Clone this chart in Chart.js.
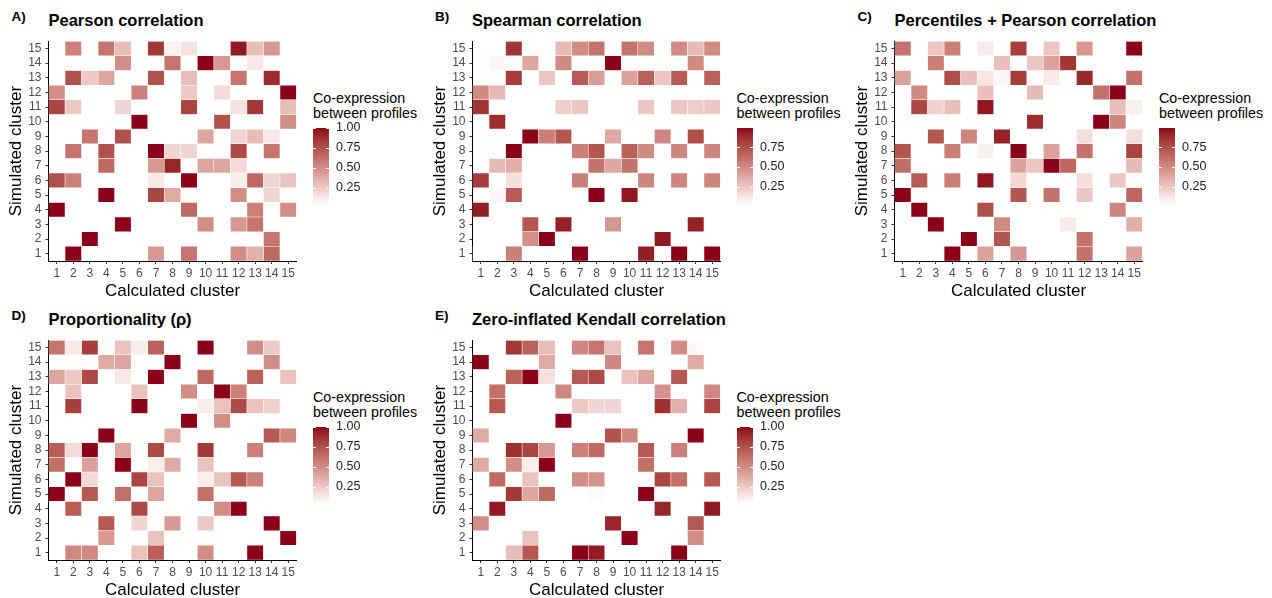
<!DOCTYPE html>
<html>
<head>
<meta charset="utf-8">
<script src="https://cdn.jsdelivr.net/npm/chart.js@4.4.1/dist/chart.umd.min.js"></script>
<style>
  body { margin: 0; width: 1272px; height: 598px; background: #fff; position: relative; overflow: hidden;
         font-family: "Liberation Sans", Arial, sans-serif; }
  canvas { position: absolute; }
  .tag { position: absolute; font-weight: bold; font-size: 13.5px; line-height: 13.5px; color: #000; }
  .title { position: absolute; font-weight: bold; font-size: 16.5px; line-height: 16.5px; color: #000; white-space: nowrap; }
  .ltitle { position: absolute; font-size: 14.3px; line-height: 15px; color: #000; white-space: nowrap; }
</style>
</head>
<body>
<script>
// Clusters 1..15 (both axes)
const clusters = [1, 2, 3, 4, 5, 6, 7, 8, 9, 10, 11, 12, 13, 14, 15];
const legendTicks = [0.25, 0.5, 0.75, 1.0];

// Each matrix: rows = simulated cluster 15 down to 1, columns = calculated cluster 1..15 (0 = empty)
const pearson = [
  [0, .55, 0, .6, .3, 0, .85, .08, .15, 0, 0, .95, .3, .45, 0],
  [0, 0, 0, 0, .5, 0, 0, .6, 0, 1, .45, 0, .12, 0, 0],
  [0, .75, .25, .4, 0, 0, .75, 0, .3, 0, 0, .6, 0, .9, 0],
  [.5, 0, 0, 0, 0, .55, 0, 0, .25, 0, .18, 0, .03, 0, 1],
  [.8, .25, 0, 0, .2, 0, 0, 0, .8, 0, 0, .15, .85, 0, .3],
  [0, 0, 0, 0, 0, 1, 0, 0, 0, 0, .75, 0, 0, 0, .5],
  [0, 0, .6, 0, .75, 0, 0, 0, 0, .4, 0, .2, .3, .12, 0],
  [0, .6, 0, .75, 0, 0, 1, .2, .2, 0, 0, .78, 0, .6, 0],
  [0, 0, 0, .65, 0, 0, .45, .92, 0, .4, .4, .18, 0, 0, 0],
  [.75, .55, 0, 0, 0, 0, .12, 0, 1, 0, 0, .1, .65, .2, .28],
  [0, 0, 0, 1, 0, 0, .8, .38, 0, 0, 0, .5, 0, .2, 0],
  [1, 0, 0, 0, 0, 0, 0, 0, .65, 0, 0, 0, .55, 0, .5],
  [0, 0, 0, 0, 1, 0, 0, 0, 0, .5, 0, .45, .6, 0, 0],
  [0, 0, 1, 0, 0, 0, 0, 0, 0, 0, 0, 0, 0, .6, 0],
  [0, 1, 0, 0, 0, 0, .45, 0, .6, 0, 0, .5, .35, .65, 0]
];

const spearman = [
  [0, 0, .85, .03, 0, .3, .5, .6, 0, .6, .5, 0, .5, .3, .5],
  [0, .05, 0, .38, 0, .5, 0, 0, .99, 0, 0, 0, 0, .5, 0],
  [0, 0, .82, 0, .25, 0, .7, .42, 0, .4, .68, .25, .7, 0, .68],
  [.5, .3, 0, 0, 0, 0, 0, 0, 0, 0, 0, 0, 0, 0, 0],
  [.85, 0, 0, 0, 0, .22, .25, 0, 0, 0, .25, 0, .25, .22, .25],
  [0, .88, 0, 0, 0, 0, 0, 0, 0, 0, 0, 0, 0, 0, 0],
  [0, 0, 0, .99, .55, .72, 0, 0, .38, 0, 0, .52, 0, .75, 0],
  [0, 0, .99, 0, 0, 0, .55, .72, 0, .68, .5, 0, .52, 0, .52],
  [0, .3, .35, 0, 0, 0, 0, .6, .38, .6, 0, 0, 0, 0, 0],
  [.82, 0, .15, 0, 0, 0, .55, 0, 0, 0, .52, 0, .52, 0, .52],
  [0, .05, .7, 0, 0, 0, 0, .99, 0, .95, 0, 0, 0, 0, 0],
  [.93, 0, 0, 0, 0, 0, 0, 0, 0, 0, 0, 0, 0, 0, 0],
  [0, 0, 0, .72, 0, .92, 0, 0, .45, 0, 0, 0, 0, .92, 0],
  [0, 0, 0, .48, .99, 0, 0, 0, 0, 0, 0, .95, 0, 0, 0],
  [.02, 0, .55, 0, 0, 0, .99, 0, 0, 0, .93, 0, .99, 0, .99]
];

const percentilesPearson = [
  [.6, 0, .25, .55, 0, .1, 0, .82, 0, .25, 0, .45, 0, 0, .99],
  [0, 0, .55, 0, 0, 0, .28, 0, .25, .4, .85, 0, 0, 0, 0],
  [.4, 0, 0, .75, .28, .12, .05, .82, 0, .1, 0, .9, 0, 0, .6],
  [0, .5, 0, 0, 0, .28, 0, 0, .3, 0, 0, 0, .6, .99, 0],
  [0, .78, .2, .28, 0, .95, 0, 0, 0, 0, 0, 0, 0, .28, .08],
  [0, 0, 0, 0, 0, 0, 0, 0, .88, 0, 0, 0, .99, .52, 0],
  [0, 0, .72, 0, .52, 0, .92, 0, 0, 0, 0, .15, 0, 0, .15],
  [.72, 0, 0, .55, 0, .08, 0, .99, 0, .4, 0, .6, 0, 0, .8],
  [.62, 0, 0, 0, 0, 0, 0, .4, .25, .99, .65, 0, 0, 0, .3],
  [0, .7, 0, .55, 0, .95, 0, .18, 0, 0, 0, .15, 0, .25, .03],
  [.99, 0, 0, 0, 0, 0, 0, .72, 0, .6, 0, .25, 0, 0, .65],
  [0, .99, 0, 0, 0, .75, 0, 0, 0, 0, 0, 0, 0, .52, 0],
  [0, 0, .99, 0, 0, .02, .5, 0, 0, 0, .1, 0, 0, 0, .35],
  [0, 0, 0, 0, .99, 0, .72, 0, 0, 0, 0, .6, 0, 0, 0],
  [0, 0, 0, .99, 0, .4, 0, .45, 0, 0, 0, .6, 0, 0, .4]
];

const proportionality = [
  [.6, .12, .82, .04, .28, .1, .68, 0, 0, 1, 0, 0, .5, .25, 0],
  [0, 0, 0, .38, .4, 0, 0, 1, 0, 0, 0, 0, 0, .5, 0],
  [.4, .25, .78, 0, .12, 0, 1, 0, 0, .65, 0, 0, .68, 0, .28],
  [0, .28, 0, 0, 0, .28, 0, 0, .5, 0, 1, .55, 0, 0, 0],
  [0, .82, 0, 0, 0, 1, 0, 0, 0, .1, .28, .78, .28, .22, 0],
  [0, 0, 0, 0, 0, 0, 0, 0, 1, 0, .5, 0, 0, 0, 0],
  [0, 0, 0, 1, 0, 0, 0, .38, 0, .03, 0, 0, 0, .72, .52],
  [.7, .18, 1, 0, .4, 0, .78, 0, 0, .85, 0, 0, .55, 0, 0],
  [.62, 0, .42, 0, 1, 0, .1, .38, 0, .28, 0, 0, 0, 0, 0],
  [0, 1, .18, 0, 0, .8, .28, 0, 0, .1, .28, .72, .55, 0, 0],
  [1, 0, .72, 0, .62, 0, .4, 0, 0, .62, 0, 0, 0, 0, 0],
  [0, .7, 0, 0, 0, .78, 0, 0, 0, 0, .5, 1, 0, 0, 0],
  [0, 0, 0, .72, 0, .2, 0, .45, 0, .25, 0, 0, 0, 1, 0],
  [0, 0, 0, .45, 0, 0, .28, 0, 0, 0, 0, 0, 0, 0, 1],
  [0, .52, .52, 0, 0, .28, .7, 0, 0, .5, 0, 0, 1, 0, 0]
];

const zeroInflatedKendall = [
  [0, 0, .85, .68, .3, 0, .52, .6, .28, 0, .6, 0, .5, .06, 0],
  [1, 0, 0, 0, .38, 0, 0, 0, .52, 0, 0, 0, 0, .38, 0],
  [0, 0, .68, 1, .15, 0, .72, .78, 0, .28, .4, 0, .72, 0, 0],
  [0, .62, 0, 0, 0, .52, 0, 0, 0, 0, 0, .48, 0, 0, .52],
  [0, .72, 0, 0, 0, 0, .25, .2, .2, 0, 0, .88, .35, .03, .8],
  [0, 0, 0, 0, 0, 1, 0, 0, 0, 0, 0, 0, 0, 0, 0],
  [.38, 0, 0, 0, 0, 0, 0, 0, .75, .52, 0, 0, 0, 1, 0],
  [0, 0, .88, .8, .45, 0, .55, .65, 0, 0, .72, 0, .55, 0, 0],
  [.38, 0, .5, .1, 1, 0, 0, 0, 0, 0, .62, 0, 0, 0, 0],
  [0, .65, 0, .28, 0, 0, .5, .48, 0, 0, 0, .8, .62, 0, .72],
  [0, 0, .85, .4, .65, 0, 0, .05, 0, 0, 1, 0, 0, 0, 0],
  [0, .95, 0, 0, 0, 0, 0, 0, 0, 0, 0, .92, 0, 0, .95],
  [.5, 0, 0, 0, 0, 0, 0, 0, .92, 0, 0, 0, 0, .72, 0],
  [0, 0, 0, .28, 0, 0, 0, 0, 0, 1, 0, 0, 0, .5, 0],
  [0, 0, .3, .72, 0, 0, 1, .95, 0, 0, 0, .04, 1, 0, 0]
];

const panels = [
  { tag: 'A)', title: 'Pearson correlation', values: pearson, x: 0, y: 0 },
  { tag: 'B)', title: 'Spearman correlation', values: spearman, x: 423.5, y: 0 },
  { tag: 'C)', title: 'Percentiles + Pearson correlation', values: percentilesPearson, x: 846, y: 0 },
  { tag: 'D)', title: 'Proportionality (ρ)', values: proportionality, x: 0, y: 299 },
  { tag: 'E)', title: 'Zero-inflated Kendall correlation', values: zeroInflatedKendall, x: 423.5, y: 299 }
];

const family = '"Liberation Sans", Arial, sans-serif';
const highColor = [139, 0, 24];

// white -> dark red, interpolated in Lab like ggplot's gradient
function toLab(rgb) {
  const lin = c => { c /= 255; return c <= 0.04045 ? c / 12.92 : Math.pow((c + 0.055) / 1.055, 2.4); };
  const [r, g, b] = rgb.map(lin);
  const X = (0.4124 * r + 0.3576 * g + 0.1805 * b) / 0.95047;
  const Y = 0.2126 * r + 0.7152 * g + 0.0722 * b;
  const Z = (0.0193 * r + 0.1192 * g + 0.9505 * b) / 1.08883;
  const f = t => t > 0.008856 ? Math.cbrt(t) : 7.787 * t + 16 / 116;
  return [116 * f(Y) - 16, 500 * (f(X) - f(Y)), 200 * (f(Y) - f(Z))];
}
function fromLab([L, a, b]) {
  const fy = (L + 16) / 116, fx = fy + a / 500, fz = fy - b / 200;
  const inv = t => t * t * t > 0.008856 ? t * t * t : (t - 16 / 116) / 7.787;
  const X = 0.95047 * inv(fx), Y = inv(fy), Z = 1.08883 * inv(fz);
  const gam = c => { c = c <= 0.0031308 ? 12.92 * c : 1.055 * Math.pow(c, 1 / 2.4) - 0.055; return Math.round(Math.min(1, Math.max(0, c)) * 255); };
  return [gam(3.2406 * X - 1.5372 * Y - 0.4986 * Z), gam(-0.9689 * X + 1.8758 * Y + 0.0415 * Z), gam(0.0557 * X - 0.2040 * Y + 1.0570 * Z)];
}
const labLow = toLab([255, 255, 255]);
const labHigh = toLab(highColor);
function fillColor(v, lo, hi) {
  const t = Math.min(1, Math.max(0, (v - lo) / (hi - lo)));
  const c = fromLab(labLow.map((l, i) => l + t * (labHigh[i] - l)));
  return `rgb(${c[0]},${c[1]},${c[2]})`;
}

function barGradient(chart, lo, hi) {
  if (!chart.chartArea) return null;
  const y = chart.scales.y;
  const g = chart.ctx.createLinearGradient(0, y.getPixelForValue(lo), 0, y.getPixelForValue(hi));
  for (let i = 0; i <= 20; i++) {
    const t = i / 20;
    g.addColorStop(t, fillColor(lo + t * (hi - lo), lo, hi));
  }
  return g;
}

// short white tick marks on both sides of the colour bar
const colorbarTicks = {
  id: 'colorbarTicks',
  afterDatasetsDraw(chart) {
    const { ctx, chartArea: a, scales: { y } } = chart;
    ctx.save();
    ctx.strokeStyle = '#fff';
    ctx.lineWidth = 1;
    y.ticks.forEach(t => {
      const py = Math.round(y.getPixelForValue(t.value)) + 0.5;
      ctx.beginPath();
      ctx.moveTo(a.left, py); ctx.lineTo(a.left + 3, py);
      ctx.moveTo(a.right - 3, py); ctx.lineTo(a.right, py);
      ctx.stroke();
    });
    ctx.restore();
  }
};

function addDiv(cls, html, left, top) {
  const d = document.createElement('div');
  d.className = cls;
  d.innerHTML = html;
  d.style.left = left + 'px';
  d.style.top = top + 'px';
  document.body.appendChild(d);
}
function addCanvas(left, top, w, h) {
  const c = document.createElement('canvas');
  c.width = w; c.height = h;
  c.style.left = left + 'px'; c.style.top = top + 'px';
  document.body.appendChild(c);
  return c;
}

function drawPanel(p) {
  const cells = [];
  const all = [];
  p.values.forEach((row, i) => {
    const r = clusters.length - i;
    row.forEach((v, j) => {
      if (v > 0) {
        cells.push({ x: String(clusters[j]), y: [r - 0.5, r + 0.5], v: v });
        all.push(v);
      }
    });
  });
  const lo = Math.min(...all);
  const hi = Math.max(...all);

  addDiv('tag', p.tag, p.x + 11.5, p.y + 10);
  addDiv('title', p.title, p.x + 48.5, p.y + 12.3);
  addDiv('ltitle', 'Co-expression<br>between profiles', p.x + 313, p.y + 90.7);

  const axisGrid = { drawOnChartArea: false, drawTicks: true, tickLength: 3, color: '#333', tickColor: '#333', offset: false };
  const tickFont = { size: 12, family: family };

  new Chart(addCanvas(p.x, p.y + 30, 305, 272), {
    type: 'bar',
    data: {
      labels: clusters.map(String),
      datasets: [{
        data: cells,
        backgroundColor: ctx => ctx.raw ? fillColor(ctx.raw.v, lo, hi) : '#fff',
        borderColor: 'rgba(255,255,255,0.45)',
        borderWidth: 0.6,
        borderSkipped: false,
        barPercentage: 1,
        categoryPercentage: 1
      }]
    },
    options: {
      responsive: false,
      animation: false,
      devicePixelRatio: 1,
      layout: { padding: { top: 6, right: 8.5, left: 0, bottom: 0 } },
      plugins: { legend: { display: false }, tooltip: { enabled: false } },
      scales: {
        x: {
          type: 'category',
          offset: true,
          grid: axisGrid,
          border: { display: true, color: '#000', width: 1 },
          ticks: { autoSkip: false, maxRotation: 0, padding: 2.2, color: '#4d4d4d', font: tickFont },
          title: { display: true, text: 'Calculated cluster', color: '#000', padding: { top: 0, bottom: 0 }, font: { size: 17, family: family } },
          afterFit: s => { s.height = 41; }
        },
        y: {
          type: 'linear',
          min: 0.5,
          max: 15.5,
          afterBuildTicks: s => { s.ticks = clusters.map(v => ({ value: v })); },
          grid: axisGrid,
          border: { display: true, color: '#000', width: 1 },
          ticks: { autoSkip: false, padding: 4, color: '#4d4d4d', font: tickFont, callback: v => String(v) },
          title: { display: true, text: 'Simulated cluster', color: '#000', padding: { top: 6, bottom: 0 }, font: { size: 17, family: family } },
          afterFit: s => { s.width = 48.5; }
        }
      }
    }
  });

  // colour bar legend
  new Chart(addCanvas(p.x + 305, p.y + 121, 70, 90), {
    type: 'bar',
    data: {
      labels: [''],
      datasets: [{
        data: [[lo, hi]],
        backgroundColor: ctx => barGradient(ctx.chart, lo, hi),
        borderWidth: 0,
        barPercentage: 1,
        categoryPercentage: 1
      }]
    },
    options: {
      responsive: false,
      animation: false,
      devicePixelRatio: 1,
      layout: { padding: { left: 8, top: 7, bottom: 6, right: 0 } },
      plugins: { legend: { display: false }, tooltip: { enabled: false } },
      scales: {
        x: { display: false },
        y: {
          position: 'right',
          min: lo,
          max: hi,
          afterBuildTicks: s => { s.ticks = legendTicks.filter(v => v >= lo && v <= hi).map(v => ({ value: v })); },
          grid: { display: false, drawTicks: false },
          border: { display: false },
          ticks: { padding: 7, color: '#1a1a1a', font: { size: 12.5, family: family }, callback: v => v.toFixed(2) },
          afterFit: s => { s.width = 46; s.paddingTop = 0; s.paddingBottom = 0; }
        }
      }
    },
    plugins: [colorbarTicks]
  });
}

panels.forEach(drawPanel);
</script>
</body>
</html>
